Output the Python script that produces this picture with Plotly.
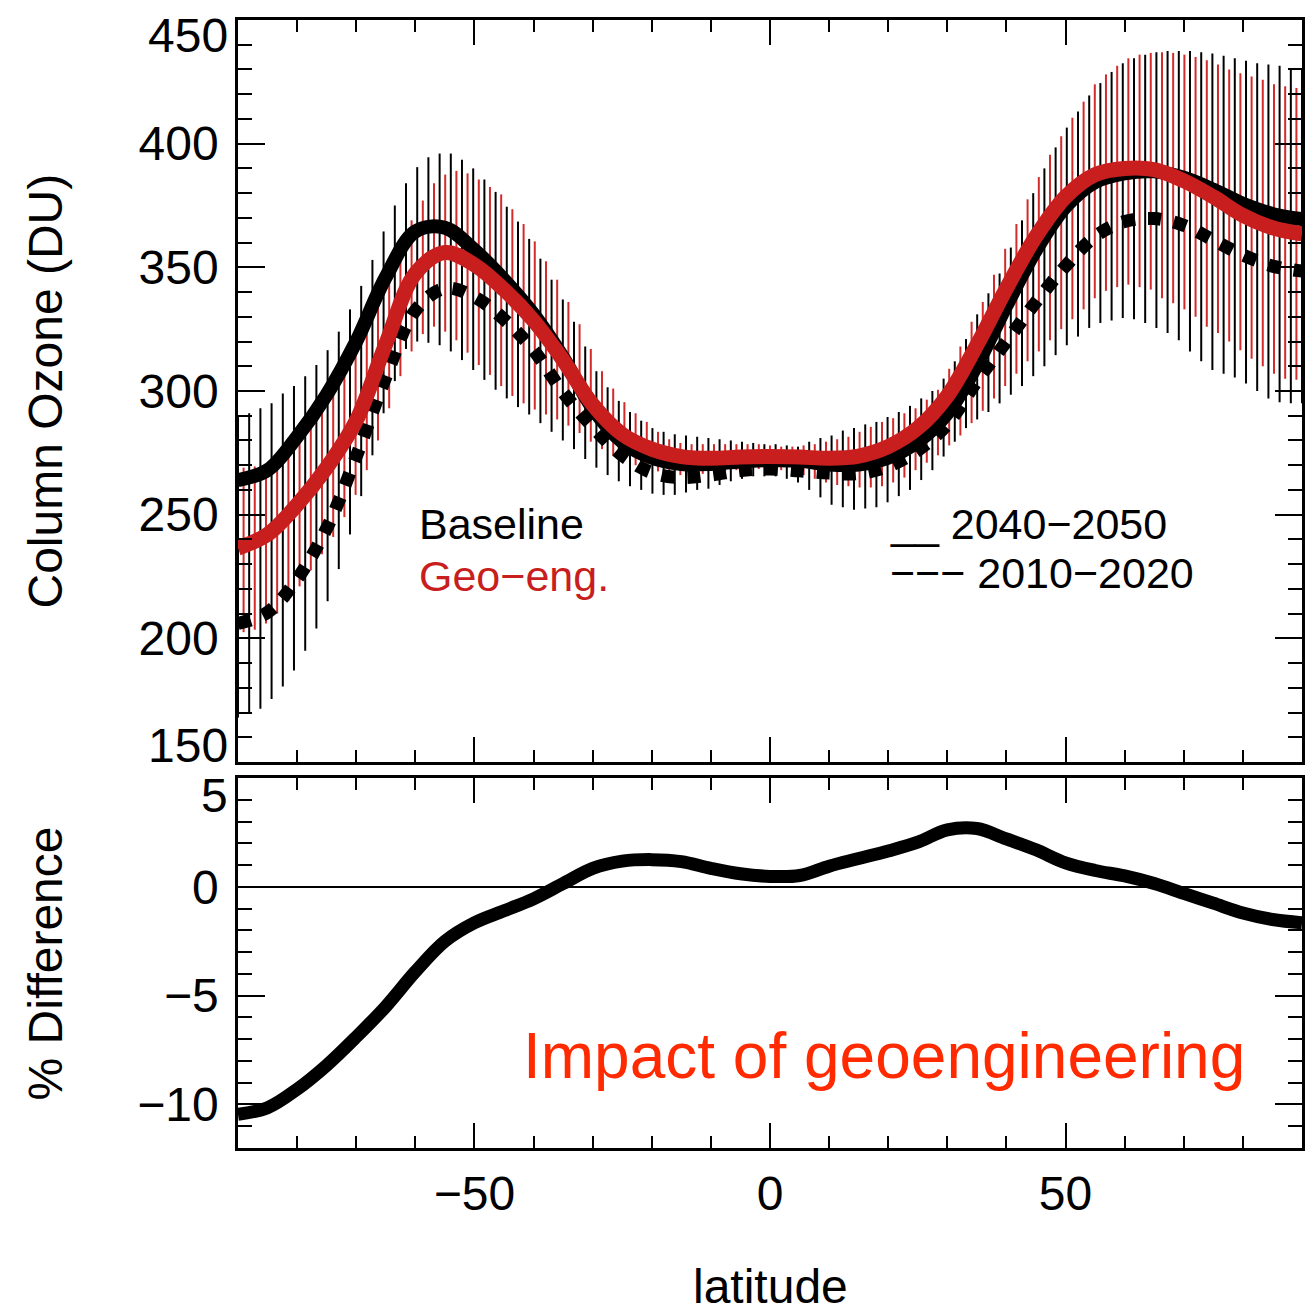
import plotly.graph_objects as go

# ---------------- data ----------------
# latitude grid of the vertical variability bars (black); red bars sit half a cell to the right
lat_bar = [-90.00, -88.11, -86.21, -84.32, -82.42, -80.53, -78.63, -76.74, -74.84, -72.95,
           -71.05, -69.16, -67.26, -65.37, -63.47, -61.58, -59.68, -57.79, -55.89, -54.00,
           -52.11, -50.21, -48.32, -46.42, -44.53, -42.63, -40.74, -38.84, -36.95, -35.05,
           -33.16, -31.26, -29.37, -27.47, -25.58, -23.68, -21.79, -19.89, -18.00, -16.11,
           -14.21, -12.32, -10.42, -8.53, -6.63, -4.74, -2.84, -0.95, 0.95, 2.84,
           4.74, 6.63, 8.53, 10.42, 12.32, 14.21, 16.11, 18.00, 19.89, 21.79,
           23.68, 25.58, 27.47, 29.37, 31.26, 33.16, 35.05, 36.95, 38.84, 40.74,
           42.63, 44.53, 46.42, 48.32, 50.21, 52.11, 54.00, 55.89, 57.79, 59.68,
           61.58, 63.47, 65.37, 67.26, 69.16, 71.05, 72.95, 74.84, 76.74, 78.63,
           80.53, 82.42, 84.32, 86.21, 88.11, 90.00]

baseline_bar_hi = [290, 291, 293, 295, 299, 302, 306, 310.5, 316.5, 324,
                   333, 342.5, 353, 364.5, 375, 384, 390.5, 394.5, 396, 396,
                   393.5, 390, 385.5, 380.5, 374.5, 368.5, 361.5, 353.5, 345, 337,
                   328, 318, 308, 301.5, 296, 291.5, 288, 285, 283.5, 282.5,
                   282, 281.5, 281, 280.5, 280, 279.5, 279, 278.5, 278.5, 278,
                   277.5, 279.5, 281, 282, 284, 285, 286.5, 287.5, 289.5, 291.5,
                   294, 297, 300, 305, 312, 321, 331, 339.5, 347.5, 358,
                   369, 380, 390, 398.5, 406.5, 413, 419.5, 424.5, 429, 432.5,
                   434.5, 436, 437, 437.5, 437.5, 437.5, 437, 436.5, 435.5, 434.5,
                   433.5, 432.5, 432, 431.5, 430.5, 430]
baseline_bar_lo = [168, 169.5, 171.5, 175.5, 180.5, 187, 195, 204, 215, 228,
                   242, 257.5, 274, 291, 304, 317, 320, 319.5, 318.5, 316,
                   312.5, 308.5, 304.5, 300.5, 297, 293.5, 290.5, 287, 283.5, 280,
                   276.5, 272.5, 269, 266, 263.5, 261.5, 260, 258.5, 258, 258,
                   259, 260, 260.5, 262, 263.5, 264.5, 265.5, 265.5, 265.5, 264.5,
                   263, 260, 257, 254, 253, 252, 252.5, 253, 255, 257.5,
                   260, 264, 268, 273.5, 279.5, 285, 288.5, 291.5, 295, 298.5,
                   302, 306, 310, 314.5, 318.5, 322, 325.5, 327.5, 328.5, 329.5,
                   329, 327.5, 325.5, 323.5, 320.5, 316, 312, 308.5, 307, 305.5,
                   303, 300, 297, 295.5, 295, 295]

geo_bar_hi = [269, 269.5, 270, 273, 277, 281, 286.5, 293, 300, 307,
              315, 325.5, 337, 348, 358.5, 369, 377, 384, 387.5, 389,
              388, 385.5, 382.5, 379.5, 373.5, 367.5, 360.5, 352.5, 345, 336,
              327, 317, 308, 301, 295.5, 291, 287.5, 283.5, 280.5, 279,
              278.5, 278.5, 278.5, 278.5, 278.5, 278.5, 278.5, 278, 277.5, 277.5,
              278, 278.5, 279.5, 280.5, 281.5, 283.5, 285.5, 287.5, 289, 291,
              293, 296.5, 300.5, 309, 318, 328, 336, 347, 357.5, 367.5,
              377.5, 386.5, 395.5, 403, 410.5, 417, 424, 428, 431.5, 434.5,
              436, 436.7, 437, 436.7, 436, 435, 433.7, 432, 430, 428.5,
              427.2, 425.8, 424, 423.2, 422.5]
geo_bar_lo = [202.5, 203.5, 206, 210, 215, 221, 227.5, 234, 241, 249,
              258, 268, 280, 293, 306, 316, 323, 326, 324, 320.5,
              315.5, 310.5, 306.5, 302, 298, 295, 292.5, 290.5, 288.5, 286,
              283, 279.5, 276.5, 274, 272, 270, 268.5, 267.5, 266.5, 266,
              266, 266.5, 267, 267.5, 268, 268.5, 268.5, 268.5, 268, 267,
              266, 264.5, 263, 262, 261.5, 261, 261, 261.5, 263, 265,
              268, 271, 274, 278, 282, 287, 292, 297, 302, 307,
              312, 316, 320.5, 325, 329, 333, 337.5, 340.5, 342, 343,
              342, 341, 337.5, 335.5, 333, 330, 326, 323.5, 320, 316.5,
              313, 310, 307, 305, 304.5]

# zonal-mean curves, every 5 degrees
lat_line = [-90, -85, -80, -75, -70, -65, -60, -55, -50, -45, -40, -35, -30,
            -25, -20, -15, -10, -5, 0, 5, 10, 15, 20, 25, 30, 35, 40, 45,
            50, 55, 60, 65, 70, 75, 80, 85, 90]
baseline_2040_2050 = [264, 268, 281.5, 298.5, 320, 346, 364.5, 366, 357, 345,
                      331, 313.5, 293, 279.5, 273, 270.5, 270.5, 271.5, 272, 271.8,
                      270.3, 270.3, 273, 279.5, 291, 310.5, 334.5, 357, 374.5, 384.5,
                      388, 388.8, 386.2, 381.4, 375.7, 371.6, 369.5]
geoeng_2040_2050 = [236.5, 242, 254, 269, 288, 319, 347.5, 356, 351, 341,
                    328.5, 312.5, 294.5, 282.5, 276.5, 273.5, 272.8, 273.3, 273.5, 273.3,
                    272.8, 273.7, 277.5, 285, 298, 318.5, 341.5, 362.5, 378.5, 387.5,
                    390, 389.5, 385, 378.5, 371, 366, 363.5]
baseline_2010_2020 = [206, 210.5, 224, 244.5, 273.5, 305.5, 332.5, 341.5, 338, 329,
                      316.5, 299.5, 285.5, 274, 267, 265, 266, 267.8, 268.5, 267.7,
                      266.8, 266.6, 269.5, 276, 286.5, 304, 320, 336, 350.5, 362.5,
                      368.5, 369.7, 367, 361, 355, 350.5, 348.5]
pct_difference = [-10.45, -10.15, -9.3, -8.2, -6.9, -5.5, -3.9, -2.5, -1.65, -1.1,
                  -0.55, 0.15, 0.85, 1.18, 1.25, 1.16, 0.85, 0.6, 0.48, 0.52,
                  0.95, 1.3, 1.65, 2.05, 2.62, 2.68, 2.2, 1.7, 1.1, 0.75,
                  0.5, 0.15, -0.3, -0.75, -1.2, -1.5, -1.65]

x_ticks = [-50, 0, 50]
y_top_ticks = [150, 200, 250, 300, 350, 400, 450]
y_bot_ticks = [-10, -5, 0, 5]

# ---------------- style ----------------
FONT = "Liberation Sans, Arial, Helvetica, sans-serif"
BLACK = "#000000"
RED = "#c81e1e"
RED_BAR = "#d42a2a"
ORANGE_RED = "#ff2a00"
TICK_FS = 48

fig = go.Figure()


def bar_segments(lats, lo, hi, shift=0.0):
    xs, ys = [], []
    for la, a, b in zip(lats, lo, hi):
        xs += [la + shift, la + shift, None]
        ys += [a, b, None]
    return xs, ys


bx, by = bar_segments(lat_bar, baseline_bar_lo, baseline_bar_hi)
half_cell = (lat_bar[1] - lat_bar[0]) / 2.0
rx, ry = bar_segments(lat_bar[:len(geo_bar_hi)], geo_bar_lo, geo_bar_hi, shift=half_cell)

fig.add_trace(go.Scatter(x=bx, y=by, mode="lines", line=dict(color=BLACK, width=2),
                         xaxis="x", yaxis="y", hoverinfo="skip"))
fig.add_trace(go.Scatter(x=rx, y=ry, mode="lines", line=dict(color=RED_BAR, width=2),
                         xaxis="x", yaxis="y", hoverinfo="skip"))
fig.add_trace(go.Scatter(x=lat_line, y=baseline_2010_2020, mode="lines",
                         line=dict(color=BLACK, width=13, dash="13px,13px", shape="spline"),
                         xaxis="x", yaxis="y"))
fig.add_trace(go.Scatter(x=lat_line, y=baseline_2040_2050, mode="lines",
                         line=dict(color=BLACK, width=14, shape="spline"),
                         xaxis="x", yaxis="y"))
fig.add_trace(go.Scatter(x=lat_line, y=geoeng_2040_2050, mode="lines",
                         line=dict(color=RED, width=15, shape="spline"),
                         xaxis="x", yaxis="y"))
fig.add_trace(go.Scatter(x=lat_line, y=pct_difference, mode="lines",
                         line=dict(color=BLACK, width=13, shape="spline"),
                         xaxis="x2", yaxis="y2"))

common_axis = dict(showline=True, linecolor=BLACK, linewidth=2.5, mirror="allticks",
                   ticks="inside", tickcolor=BLACK, tickwidth=2, showgrid=False,
                   zeroline=False,
                   tickfont=dict(family=FONT, size=TICK_FS, color=BLACK))

xax = dict(common_axis, range=[-90, 90], tickvals=x_ticks, ticklen=25,
           minor=dict(dtick=10, tick0=0, ticks="inside", ticklen=12, tickwidth=2,
                      tickcolor=BLACK, showgrid=False))

fig.update_layout(
    width=1315, height=1312,
    margin=dict(l=238, r=10, t=20, b=164),
    paper_bgcolor="white", plot_bgcolor="white",
    showlegend=False,
    font=dict(family=FONT, color=BLACK),
    xaxis=dict(xax, anchor="y", domain=[0, 1], showticklabels=False, matches="x2"),
    xaxis2=dict(xax, anchor="y2", domain=[0, 1], showticklabels=True,
                ticklabelstandoff=2),
    yaxis=dict(common_axis, domain=[0.3422, 1.0], range=[150, 450], tickvals=y_top_ticks,
               ticktext=["" if v in (y_top_ticks[0], y_top_ticks[-1]) else str(v)
                         for v in y_top_ticks],
               ticklen=27, ticklabelstandoff=7,
               minor=dict(dtick=10, ticks="inside", ticklen=14, tickwidth=2,
                          tickcolor=BLACK, showgrid=False)),
    yaxis2=dict(common_axis, domain=[0, 0.3280], range=[-12, 5], tickvals=y_bot_ticks,
                ticktext=["" if v == y_bot_ticks[-1] else ("\u2212" + str(-v) if v < 0 else str(v))
                          for v in y_bot_ticks],
                ticklen=27, ticklabelstandoff=7,
                zeroline=True, zerolinecolor=BLACK, zerolinewidth=1.5,
                minor=dict(dtick=1, ticks="inside", ticklen=14, tickwidth=2,
                           tickcolor=BLACK, showgrid=False)),
)

ann = []
# edge tick labels nudged inside the frame, as in the original
ann.append(dict(text=str(y_top_ticks[-1]), xref="paper", yref="y", x=0, y=y_top_ticks[-1],
                xanchor="right", yanchor="middle", xshift=-8, yshift=-15, showarrow=False,
                font=dict(family=FONT, size=TICK_FS, color=BLACK)))
ann.append(dict(text=str(y_top_ticks[0]), xref="paper", yref="y", x=0, y=y_top_ticks[0],
                xanchor="right", yanchor="middle", xshift=-8, yshift=17, showarrow=False,
                font=dict(family=FONT, size=TICK_FS, color=BLACK)))
ann.append(dict(text=str(y_bot_ticks[-1]), xref="paper", yref="y2", x=0, y=y_bot_ticks[-1],
                xanchor="right", yanchor="middle", xshift=-8, yshift=-17, showarrow=False,
                font=dict(family=FONT, size=TICK_FS, color=BLACK)))
# axis titles
ann.append(dict(text="Column Ozone (DU)", xref="paper", yref="paper", x=-0.181, y=0.671,
                textangle=-90, xanchor="center", yanchor="middle", showarrow=False,
                font=dict(family=FONT, size=48, color=BLACK)))
ann.append(dict(text="% Difference", xref="paper", yref="paper", x=-0.181, y=0.164,
                textangle=-90, xanchor="center", yanchor="middle", showarrow=False,
                font=dict(family=FONT, size=48, color=BLACK)))
ann.append(dict(text="latitude", xref="paper", yref="paper", x=0.5, y=-0.123,
                xanchor="center", yanchor="middle", showarrow=False,
                font=dict(family=FONT, size=48, color=BLACK)))
# in-plot legend text
ann.append(dict(text="Baseline", xref="paper", yref="paper", x=0.1687, y=0.5532,
                xanchor="left", yanchor="middle", showarrow=False,
                font=dict(family=FONT, size=43, color=BLACK)))
ann.append(dict(text="Geo\u2212eng.", xref="paper", yref="paper", x=0.1687, y=0.5071,
                xanchor="left", yanchor="middle", showarrow=False,
                font=dict(family=FONT, size=43, color=RED)))
ann.append(dict(text="__ 2040\u22122050", xref="paper", yref="paper", x=0.611, y=0.5532,
                xanchor="left", yanchor="middle", showarrow=False,
                font=dict(family=FONT, size=43, color=BLACK)))
ann.append(dict(text="\u2212\u2212\u2212 2010\u22122020", xref="paper", yref="paper",
                x=0.611, y=0.5096, xanchor="left", yanchor="middle", showarrow=False,
                font=dict(family=FONT, size=43, color=BLACK)))
ann.append(dict(text="Impact of geoengineering", xref="paper", yref="paper",
                x=0.9485, y=0.0816, xanchor="right", yanchor="middle", showarrow=False,
                font=dict(family=FONT, size=64, color=ORANGE_RED)))
fig.update_layout(annotations=ann)

fig.write_html("out.html", config={"displayModeBar": False},
               post_script="document.body.style.margin='0';")
